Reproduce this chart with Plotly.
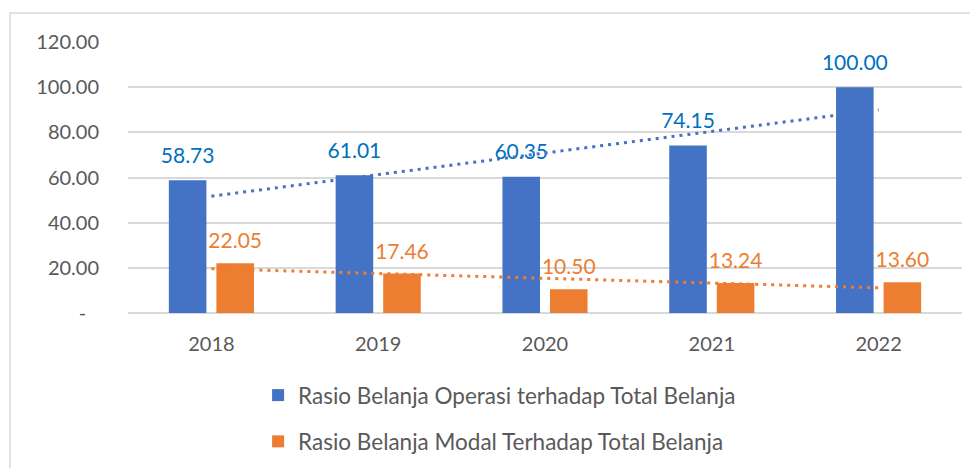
import numpy as np
import plotly.graph_objects as go

years = ["2018", "2019", "2020", "2021", "2022"]
operasi = [58.73, 61.01, 60.35, 74.15, 100.00]
modal = [22.05, 17.46, 10.50, 13.24, 13.60]
name_operasi = "Rasio Belanja Operasi terhadap Total Belanja"
name_modal = "Rasio Belanja Modal Terhadap Total Belanja"
y_ticks = [0, 20, 40, 60, 80, 100, 120]
y_ticktext = ["-\u00a0\u00a0\u2009", "20.00", "40.00", "60.00", "80.00", "100.00", "120.00"]

BLUE = "#4472C4"
ORANGE = "#ED7D31"
BLUE_LABEL = "#0070C0"
FONT = "Lato"
GRID = "#D9D9D9"

BARGAP = 0.43
BARGROUPGAP = 0.21
xi = np.arange(len(years))
slot = (1 - BARGAP) / 2  # width of each bar slot in axis units
off = slot / 2

fig = go.Figure()
fig.add_trace(go.Bar(x=xi, y=operasi, name=name_operasi, marker_color=BLUE,
                     legendgroup="a", marker_line_width=0))
fig.add_trace(go.Bar(x=xi, y=modal, name=name_modal, marker_color=ORANGE,
                     legendgroup="b", marker_line_width=0))

# data labels
fig.add_trace(go.Scatter(x=xi - off, y=operasi, mode="markers+text",
                         text=[f"{v:.2f}" for v in operasi], textposition="top center",
                         marker=dict(size=18, opacity=0), showlegend=False, hoverinfo="skip",
                         textfont=dict(family=FONT, size=21, color=BLUE_LABEL)))
fig.add_trace(go.Scatter(x=xi + off, y=modal, mode="markers+text",
                         text=[f"{v:.2f}" for v in modal], textposition="top center",
                         marker=dict(size=14, opacity=0), showlegend=False, hoverinfo="skip",
                         textfont=dict(family=FONT, size=21, color=ORANGE)))

# linear trendlines
for vals, col in [(operasi, BLUE), (modal, ORANGE)]:
    k, b = np.polyfit(xi, vals, 1)
    fig.add_trace(go.Scatter(x=xi, y=k * xi + b, mode="lines", showlegend=False,
                             hoverinfo="skip",
                             line=dict(color=col, width=3, dash="3px,5px")))

# page body adds an 8px margin; figure fills the rest of the 978x468 window
fig.update_layout(
    width=970, height=460,
    margin=dict(l=120, r=16, t=34, b=155, autoexpand=False),
    paper_bgcolor="white", plot_bgcolor="white",
    barmode="group", bargap=BARGAP, bargroupgap=BARGROUPGAP,
    font=dict(family=FONT, size=20, color="#595959"),
    showlegend=True,
    legend=dict(orientation="v", x=0.156, xanchor="left", y=-0.225, yanchor="top",
                font=dict(family=FONT, size=22.5, color="#595959"),
                tracegroupgap=14, bgcolor="rgba(0,0,0,0)"),
    xaxis=dict(range=[-0.5, 4.5], tickmode="array", tickvals=list(xi), ticktext=years,
               showgrid=False, zeroline=False, showline=False, ticks="",
               ticklabelstandoff=17, fixedrange=True, automargin=False),
    yaxis=dict(range=[0, 120], tickmode="array", tickvals=y_ticks, ticktext=y_ticktext,
               showgrid=True, gridcolor=GRID, gridwidth=1.5, zeroline=True,
               zerolinecolor=GRID, zerolinewidth=1.5, showline=False, ticks="",
               ticklabelstandoff=28, fixedrange=True, automargin=False),
    shapes=[dict(type="rect", xref="paper", yref="paper",
                 x0=(10 - 128) / 834, x1=(990 - 128) / 834,
                 y0=(313 - 490) / 271, y1=(313 - 13) / 271,
                 line=dict(color=GRID, width=1.5), fillcolor="rgba(0,0,0,0)", layer="below")],
)

fig.write_html("out.html")
